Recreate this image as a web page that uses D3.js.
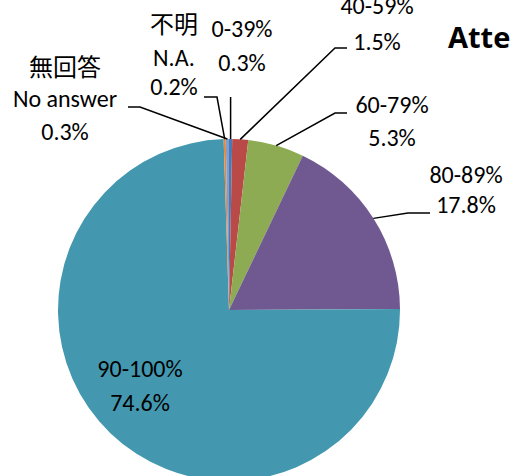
<!DOCTYPE html>
<html>
<head>
<meta charset="utf-8">
<script src="https://cdn.jsdelivr.net/npm/d3@7"></script>
<style>
  body { margin: 0; background: #fff; }
  svg { display: block; }
  .lbl { font-family: Calibri, Carlito, Lato, 'Noto Sans CJK JP', sans-serif; font-size: 24px; fill: #000; }
  .jp { font-family: 'Noto Sans CJK JP', sans-serif; font-size: 24px; }
  .title { font-family: 'Open Sans', sans-serif; font-size: 29px; font-weight: bold; }
</style>
</head>
<body>
<script>
// Data
const categories = ['0-39%', '40-59%', '60-79%', '80-89%', '90-100%', 'N.A.', 'No answer'];
const jpNames = ['', '', '', '', '', '不明', '無回答'];
const values = [0.3, 1.5, 5.3, 17.8, 74.6, 0.2, 0.3];
const colors = ['#4A7AB5', '#BA4A47', '#8DAB52', '#6F5990', '#4398B0', '#E8893F', '#7F9FD0'];

// Label placement (text centre x, line centres y, leader bend points)
const labelLayout = [
    { x: 242, ys: [28, 62], bend: [[230.6, 97]] },
    { x: 377, ys: [5, 41], bend: [[335, 48], [347, 48]] },
    { x: 392, ys: [104, 137], bend: [[335, 113], [347, 113]] },
    { x: 466, ys: [174, 204], bend: [[408, 213], [430, 213]] },
    { x: 140, ys: [368, 402], bend: [] },
    { x: 174, ys: [22, 57, 86], bend: [[217, 97], [204, 97]] },
    { x: 65, ys: [65, 98, 131], bend: [[140, 107], [128, 107]] }
];

const width = 511, height = 476;
const cx = 229, cy = 310, radius = 171;

let svg = d3.select('body').append('svg')
    .attr('width', width)
    .attr('height', height);

let pie = d3.pie().sort(null).value(d => d);
let arcs = pie(values);
let arc = d3.arc().innerRadius(0).outerRadius(radius);
let edge = d3.arc().innerRadius(radius).outerRadius(radius);

let g = svg.append('g').attr('transform', `translate(${cx}, ${cy})`);

g.selectAll('path.slice')
    .data(arcs)
    .enter()
    .append('path')
    .attr('class', 'slice')
    .attr('d', arc)
    .attr('fill', (d, i) => colors[i]);

// Leader lines
arcs.forEach((d, i) => {
    const lay = labelLayout[i];
    if (!lay.bend.length) return;
    const p = edge.centroid(d);
    const pts = [[cx + p[0], cy + p[1]]].concat(lay.bend);
    svg.append('path')
        .attr('d', d3.line()(pts))
        .attr('fill', 'none')
        .attr('stroke', '#000')
        .attr('stroke-width', 1.5);
});

// Labels
arcs.forEach((d, i) => {
    const lay = labelLayout[i];
    let lines = [];
    if (jpNames[i]) lines.push({ t: jpNames[i], jp: true });
    lines.push({ t: categories[i] });
    lines.push({ t: values[i].toFixed(1) + '%' });
    lines.forEach((l, k) => {
        svg.append('text')
            .attr('class', l.jp ? 'lbl jp' : 'lbl')
            .attr('x', lay.x)
            .attr('y', lay.ys[k])
            .attr('text-anchor', 'middle')
            .attr('dominant-baseline', 'central')
            .text(l.t);
    });
});

// Title (cut off by the right edge, as in the original)
svg.append('text')
    .attr('class', 'title')
    .attr('x', 448)
    .attr('y', 48)
    .text('Attendance rate');
</script>
</body>
</html>
